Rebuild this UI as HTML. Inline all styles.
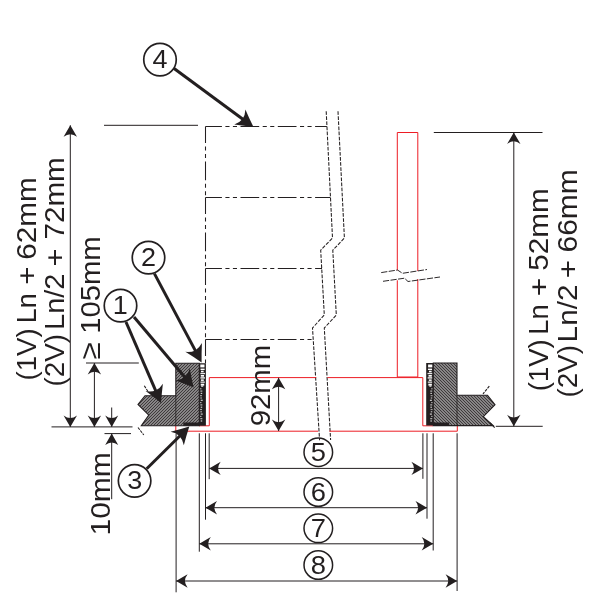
<!DOCTYPE html>
<html><head><meta charset="utf-8"><title>drawing</title>
<style>
html,body{margin:0;padding:0;background:#fff;}
svg{display:block;will-change:transform;}
text{font-family:"Liberation Sans",sans-serif;fill:#231f20;}
</style></head><body>
<svg width="600" height="600" viewBox="0 0 600 600">
<defs>
<pattern id="hl" width="3" height="3" patternUnits="userSpaceOnUse"><rect width="3" height="3" fill="#d0d0d0"/><g stroke="#231f20" stroke-width="0.85"><line x1="-2" y1="-10.00" x2="5" y2="-17.00"/><line x1="-2" y1="-8.50" x2="5" y2="-15.50"/><line x1="-2" y1="-7.00" x2="5" y2="-14.00"/><line x1="-2" y1="-5.50" x2="5" y2="-12.50"/><line x1="-2" y1="-4.00" x2="5" y2="-11.00"/><line x1="-2" y1="-2.50" x2="5" y2="-9.50"/><line x1="-2" y1="-1.00" x2="5" y2="-8.00"/><line x1="-2" y1="0.50" x2="5" y2="-6.50"/><line x1="-2" y1="2.00" x2="5" y2="-5.00"/><line x1="-2" y1="3.50" x2="5" y2="-3.50"/><line x1="-2" y1="5.00" x2="5" y2="-2.00"/><line x1="-2" y1="6.50" x2="5" y2="-0.50"/><line x1="-2" y1="8.00" x2="5" y2="1.00"/><line x1="-2" y1="9.50" x2="5" y2="2.50"/><line x1="-2" y1="11.00" x2="5" y2="4.00"/><line x1="-2" y1="12.50" x2="5" y2="5.50"/><line x1="-2" y1="14.00" x2="5" y2="7.00"/></g></pattern><pattern id="hr" width="3" height="3" patternUnits="userSpaceOnUse"><rect width="3" height="3" fill="#d0d0d0"/><g stroke="#231f20" stroke-width="0.85"><line x1="-2" y1="-14.00" x2="5" y2="-7.00"/><line x1="-2" y1="-12.50" x2="5" y2="-5.50"/><line x1="-2" y1="-11.00" x2="5" y2="-4.00"/><line x1="-2" y1="-9.50" x2="5" y2="-2.50"/><line x1="-2" y1="-8.00" x2="5" y2="-1.00"/><line x1="-2" y1="-6.50" x2="5" y2="0.50"/><line x1="-2" y1="-5.00" x2="5" y2="2.00"/><line x1="-2" y1="-3.50" x2="5" y2="3.50"/><line x1="-2" y1="-2.00" x2="5" y2="5.00"/><line x1="-2" y1="-0.50" x2="5" y2="6.50"/><line x1="-2" y1="1.00" x2="5" y2="8.00"/><line x1="-2" y1="2.50" x2="5" y2="9.50"/><line x1="-2" y1="4.00" x2="5" y2="11.00"/><line x1="-2" y1="5.50" x2="5" y2="12.50"/><line x1="-2" y1="7.00" x2="5" y2="14.00"/><line x1="-2" y1="8.50" x2="5" y2="15.50"/><line x1="-2" y1="10.00" x2="5" y2="17.00"/></g></pattern>
</defs>
<rect width="600" height="600" fill="#fff"/>

<g fill="none" stroke="#231f20" stroke-width="1.05">
<path d="M205.5 126.5 H326.9" stroke-dasharray="18.7 3.5 4.1 3.4 4.1 3.5" stroke-dashoffset="2.3"/>
<path d="M205.5 197.5 H330.4" stroke-dasharray="18.7 3.5 4.1 3.4 4.1 3.5" stroke-dashoffset="2.3"/>
<path d="M205.5 268.5 H322.0" stroke-dasharray="18.7 3.5 4.1 3.4 4.1 3.5" stroke-dashoffset="2.3"/>
<path d="M205.5 339.5 H313.6" stroke-dasharray="18.7 3.5 4.1 3.4 4.1 3.5" stroke-dashoffset="2.3"/>
<path d="M205.5 126.5 V197.5" stroke-dasharray="18.7 3.5 4.1 3.4 4.1 3.5" stroke-dashoffset="2.3"/>
<path d="M205.5 197.5 V268.5" stroke-dasharray="18.7 3.5 4.1 3.4 4.1 3.5" stroke-dashoffset="2.3"/>
<path d="M205.5 268.5 V339.5" stroke-dasharray="18.7 3.5 4.1 3.4 4.1 3.5" stroke-dashoffset="2.3"/>
<path d="M205.5 339.5 V363.3" stroke-dasharray="18.7 3.5 4.1 3.4 4.1 3.5" stroke-dashoffset="2.3"/>
<path d="M326.2 111.2 L332.5 238 L320.7 250.2 L324.3 315 L312.5 328 L319.6 440.3" stroke-dasharray="3.7 1.4"/>
<path d="M338 111.2 L344.4 238 L332.8 250.2 L336.3 315 L324.3 328 L330.6 440" stroke-dasharray="3.7 1.4"/>
</g>
<g fill="none" stroke="#ed1c24" stroke-width="1">
<path d="M397.3 270.3 V132.5 H417.8 V271"/>
<path d="M397.3 280.3 V377 H417.8 V279"/>
<path d="M199 425.8 H209.3 V377.6 H316.2 M327.4 377.6 H422.8 V425.8 H433"/>
<path d="M175.8 425.6 V431.2 H318.2 M329.4 431.2 H457.3 V425.6"/>
</g>
<g fill="none" stroke="#231f20" stroke-width="0.95" stroke-dasharray="6.2 1.4">
<path d="M381.2 272.6 L397.5 270 L402.5 273.3 L427 269.5"/>
<path d="M383 281.3 L404.5 278.2 L408 281.5 L440 277"/>
</g>
<path d="M175.8 363.3 H199.3 V425.7 H141.3 L148.8 415 L138 404.5 L145 395.7 H175.8 Z" fill="url(#hl)" stroke="#231f20" stroke-width="1.1"/>
<line x1="175.80" y1="395.70" x2="175.80" y2="425.70" stroke="#231f20" stroke-width="0.8" />
<path d="M199.2 363.3 H205.9 V425.8 H183.3 V422.5 H199.2 Z" fill="#231f20"/>
<rect x="200.30" y="364.50" width="4.20" height="2.90" fill="#fff" opacity="1"/><rect x="200.54" y="368.60" width="4.10" height="1.40" fill="#fff" opacity="1"/><rect x="200.96" y="370.70" width="2.70" height="1.60" fill="#fff" opacity="1"/><rect x="200.36" y="372.90" width="4.70" height="1.30" fill="#fff" opacity="0.9"/><rect x="200.78" y="375.00" width="3.30" height="1.70" fill="#fff" opacity="1"/><rect x="200.42" y="377.20" width="4.50" height="1.40" fill="#fff" opacity="0.95"/><rect x="200.90" y="379.40" width="2.90" height="1.50" fill="#fff" opacity="1"/><rect x="200.48" y="381.50" width="4.30" height="1.30" fill="#fff" opacity="0.9"/><rect x="200.72" y="383.70" width="3.50" height="1.90" fill="#fff" opacity="1"/><rect x="201.14" y="385.60" width="2.10" height="1.10" fill="#fff" opacity="1"/><rect x="200.00" y="388.20" width="1.50" height="1.20" fill="#fff" opacity="0.6"/><rect x="200.35" y="390.50" width="2.00" height="1.20" fill="#fff" opacity="0.7"/><rect x="200.70" y="392.80" width="1.50" height="1.20" fill="#fff" opacity="0.8"/><rect x="200.00" y="395.10" width="2.00" height="1.20" fill="#fff" opacity="0.6"/><rect x="200.35" y="397.40" width="1.50" height="1.20" fill="#fff" opacity="0.7"/><rect x="200.70" y="399.70" width="2.00" height="1.20" fill="#fff" opacity="0.8"/><rect x="200.00" y="402.00" width="1.50" height="1.20" fill="#fff" opacity="0.6"/><rect x="200.35" y="404.30" width="2.00" height="1.20" fill="#fff" opacity="0.7"/><rect x="200.70" y="406.60" width="1.50" height="1.20" fill="#fff" opacity="0.8"/><rect x="200.00" y="408.90" width="2.00" height="1.20" fill="#fff" opacity="0.6"/><rect x="200.35" y="411.20" width="1.50" height="1.20" fill="#fff" opacity="0.7"/><rect x="200.70" y="413.50" width="2.00" height="1.20" fill="#fff" opacity="0.8"/><rect x="200.00" y="415.80" width="1.50" height="1.20" fill="#fff" opacity="0.6"/><rect x="200.35" y="418.10" width="2.00" height="1.20" fill="#fff" opacity="0.7"/><rect x="200.70" y="420.40" width="1.50" height="1.20" fill="#fff" opacity="0.8"/>
<path d="M433.3 363 H457 V395.3 H487.5 L495 404.7 L483.3 416.7 L493.3 425.6 H433.3 Z" fill="url(#hr)" stroke="#231f20" stroke-width="1.1"/>
<line x1="457.00" y1="395.30" x2="457.00" y2="425.60" stroke="#231f20" stroke-width="0.8" />
<path d="M433.4 363 H426.2 V425.6 H449.2 V422.4 H433.4 Z" fill="#231f20"/>
<rect x="428.10" y="364.50" width="4.20" height="2.90" fill="#fff" opacity="1"/><rect x="427.96" y="368.60" width="4.10" height="1.40" fill="#fff" opacity="1"/><rect x="428.94" y="370.70" width="2.70" height="1.60" fill="#fff" opacity="1"/><rect x="427.54" y="372.90" width="4.70" height="1.30" fill="#fff" opacity="0.9"/><rect x="428.52" y="375.00" width="3.30" height="1.70" fill="#fff" opacity="1"/><rect x="427.68" y="377.20" width="4.50" height="1.40" fill="#fff" opacity="0.95"/><rect x="428.80" y="379.40" width="2.90" height="1.50" fill="#fff" opacity="1"/><rect x="427.82" y="381.50" width="4.30" height="1.30" fill="#fff" opacity="0.9"/><rect x="428.38" y="383.70" width="3.50" height="1.90" fill="#fff" opacity="1"/><rect x="429.36" y="385.60" width="2.10" height="1.10" fill="#fff" opacity="1"/><rect x="431.10" y="388.20" width="1.50" height="1.20" fill="#fff" opacity="0.6"/><rect x="430.25" y="390.50" width="2.00" height="1.20" fill="#fff" opacity="0.7"/><rect x="430.40" y="392.80" width="1.50" height="1.20" fill="#fff" opacity="0.8"/><rect x="430.60" y="395.10" width="2.00" height="1.20" fill="#fff" opacity="0.6"/><rect x="430.75" y="397.40" width="1.50" height="1.20" fill="#fff" opacity="0.7"/><rect x="429.90" y="399.70" width="2.00" height="1.20" fill="#fff" opacity="0.8"/><rect x="431.10" y="402.00" width="1.50" height="1.20" fill="#fff" opacity="0.6"/><rect x="430.25" y="404.30" width="2.00" height="1.20" fill="#fff" opacity="0.7"/><rect x="430.40" y="406.60" width="1.50" height="1.20" fill="#fff" opacity="0.8"/><rect x="430.60" y="408.90" width="2.00" height="1.20" fill="#fff" opacity="0.6"/><rect x="430.75" y="411.20" width="1.50" height="1.20" fill="#fff" opacity="0.7"/><rect x="429.90" y="413.50" width="2.00" height="1.20" fill="#fff" opacity="0.8"/><rect x="431.10" y="415.80" width="1.50" height="1.20" fill="#fff" opacity="0.6"/><rect x="430.25" y="418.10" width="2.00" height="1.20" fill="#fff" opacity="0.7"/><rect x="430.40" y="420.40" width="1.50" height="1.20" fill="#fff" opacity="0.8"/>
<g stroke="#231f20" stroke-width="1.1" stroke-dasharray="2.8 1">
<path d="M144.3 385.8 L147.8 391.2"/>
<path d="M138 427.5 L143.8 435"/>
<path d="M489.3 386.2 L483 393.8"/>
<path d="M490 423 L495.2 428.2"/>
</g>
<g>
<line x1="104.00" y1="125.30" x2="198.00" y2="125.30" stroke="#231f20" stroke-width="1.0" />
<line x1="433.80" y1="132.50" x2="542.50" y2="132.50" stroke="#231f20" stroke-width="1.0" />
<line x1="51.50" y1="426.90" x2="132.50" y2="426.90" stroke="#231f20" stroke-width="1.0" />
<line x1="104.50" y1="433.60" x2="131.00" y2="433.60" stroke="#231f20" stroke-width="1.0" />
<line x1="86.00" y1="363.00" x2="138.80" y2="363.00" stroke="#231f20" stroke-width="1.0" />
<line x1="495.80" y1="426.30" x2="542.70" y2="426.30" stroke="#231f20" stroke-width="1.0" />
<line x1="176.10" y1="433.30" x2="176.10" y2="592.30" stroke="#231f20" stroke-width="1.0" />
<line x1="199.30" y1="433.30" x2="199.30" y2="551.70" stroke="#231f20" stroke-width="1.0" />
<line x1="205.50" y1="433.30" x2="205.50" y2="519.70" stroke="#231f20" stroke-width="1.0" />
<line x1="209.20" y1="433.30" x2="209.20" y2="479.20" stroke="#231f20" stroke-width="1.0" />
<line x1="422.90" y1="433.30" x2="422.90" y2="478.80" stroke="#231f20" stroke-width="1.0" />
<line x1="427.00" y1="433.30" x2="427.00" y2="518.70" stroke="#231f20" stroke-width="1.0" />
<line x1="433.20" y1="433.30" x2="433.20" y2="550.50" stroke="#231f20" stroke-width="1.0" />
<line x1="457.10" y1="433.30" x2="457.10" y2="591.00" stroke="#231f20" stroke-width="1.0" />
</g>
<line x1="70.30" y1="125.30" x2="70.30" y2="426.90" stroke="#231f20" stroke-width="1.0" /><path fill="#231f20" d="M70.30 125.30 Q73.65 131.05 77.00 136.80 Q73.65 134.21 70.30 134.16 Q66.95 134.21 63.60 136.80 Q66.95 131.05 70.30 125.30 Z"/><path fill="#231f20" d="M70.30 426.90 Q66.95 421.15 63.60 415.40 Q66.95 417.99 70.30 418.04 Q73.65 417.99 77.00 415.40 Q73.65 421.15 70.30 426.90 Z"/>
<line x1="94.40" y1="363.00" x2="94.40" y2="426.90" stroke="#231f20" stroke-width="1.0" /><path fill="#231f20" d="M94.40 363.00 Q97.75 368.75 101.10 374.50 Q97.75 371.91 94.40 371.86 Q91.05 371.91 87.70 374.50 Q91.05 368.75 94.40 363.00 Z"/><path fill="#231f20" d="M94.40 426.90 Q91.05 421.15 87.70 415.40 Q91.05 417.99 94.40 418.04 Q97.75 417.99 101.10 415.40 Q97.75 421.15 94.40 426.90 Z"/>
<line x1="111.70" y1="407.50" x2="111.70" y2="426.90" stroke="#231f20" stroke-width="1.0" />
<path fill="#231f20" d="M111.70 426.90 Q108.45 421.15 105.20 415.40 Q108.45 417.99 111.70 418.04 Q114.95 417.99 118.20 415.40 Q114.95 421.15 111.70 426.90 Z"/>
<line x1="111.70" y1="433.60" x2="111.70" y2="499.20" stroke="#231f20" stroke-width="1.0" />
<path fill="#231f20" d="M111.70 433.60 Q114.95 439.35 118.20 445.10 Q114.95 442.51 111.70 442.46 Q108.45 442.51 105.20 445.10 Q108.45 439.35 111.70 433.60 Z"/>
<line x1="513.80" y1="132.50" x2="513.80" y2="426.30" stroke="#231f20" stroke-width="1.0" /><path fill="#231f20" d="M513.80 132.50 Q517.15 138.25 520.50 144.00 Q517.15 141.41 513.80 141.35 Q510.45 141.41 507.10 144.00 Q510.45 138.25 513.80 132.50 Z"/><path fill="#231f20" d="M513.80 426.30 Q510.45 420.55 507.10 414.80 Q510.45 417.39 513.80 417.44 Q517.15 417.39 520.50 414.80 Q517.15 420.55 513.80 426.30 Z"/>
<line x1="278.60" y1="377.80" x2="278.60" y2="431.00" stroke="#231f20" stroke-width="1.0" /><path fill="#231f20" d="M278.60 377.80 Q281.95 383.55 285.30 389.30 Q281.95 386.71 278.60 386.66 Q275.25 386.71 271.90 389.30 Q275.25 383.55 278.60 377.80 Z"/><path fill="#231f20" d="M278.60 431.00 Q275.25 425.25 271.90 419.50 Q275.25 422.09 278.60 422.14 Q281.95 422.09 285.30 419.50 Q281.95 425.25 278.60 431.00 Z"/>
<line x1="209.20" y1="468.40" x2="422.90" y2="468.40" stroke="#231f20" stroke-width="1.0" /><path fill="#231f20" d="M209.20 468.40 Q214.95 465.05 220.70 461.70 Q218.11 465.05 218.05 468.40 Q218.11 471.75 220.70 475.10 Q214.95 471.75 209.20 468.40 Z"/><path fill="#231f20" d="M422.90 468.40 Q417.15 471.75 411.40 475.10 Q413.99 471.75 414.04 468.40 Q413.99 465.05 411.40 461.70 Q417.15 465.05 422.90 468.40 Z"/>
<line x1="205.50" y1="507.70" x2="427.00" y2="507.70" stroke="#231f20" stroke-width="1.0" /><path fill="#231f20" d="M205.50 507.70 Q211.25 504.35 217.00 501.00 Q214.41 504.35 214.35 507.70 Q214.41 511.05 217.00 514.40 Q211.25 511.05 205.50 507.70 Z"/><path fill="#231f20" d="M427.00 507.70 Q421.25 511.05 415.50 514.40 Q418.09 511.05 418.14 507.70 Q418.09 504.35 415.50 501.00 Q421.25 504.35 427.00 507.70 Z"/>
<line x1="199.30" y1="543.80" x2="433.20" y2="543.80" stroke="#231f20" stroke-width="1.0" /><path fill="#231f20" d="M199.30 543.80 Q205.05 540.45 210.80 537.10 Q208.21 540.45 208.16 543.80 Q208.21 547.15 210.80 550.50 Q205.05 547.15 199.30 543.80 Z"/><path fill="#231f20" d="M433.20 543.80 Q427.45 547.15 421.70 550.50 Q424.29 547.15 424.34 543.80 Q424.29 540.45 421.70 537.10 Q427.45 540.45 433.20 543.80 Z"/>
<line x1="176.10" y1="581.00" x2="457.10" y2="581.00" stroke="#231f20" stroke-width="1.0" /><path fill="#231f20" d="M176.10 581.00 Q181.85 577.65 187.60 574.30 Q185.01 577.65 184.95 581.00 Q185.01 584.35 187.60 587.70 Q181.85 584.35 176.10 581.00 Z"/><path fill="#231f20" d="M457.10 581.00 Q451.35 584.35 445.60 587.70 Q448.19 584.35 448.25 581.00 Q448.19 577.65 445.60 574.30 Q451.35 577.65 457.10 581.00 Z"/>
<line x1="173.75" y1="68.30" x2="245.29" y2="121.05" stroke="#231f20" stroke-width="3.0" /><path fill="#231f20" d="M253.50 127.10 Q244.04 125.61 234.24 124.58 Q239.63 122.71 242.55 119.03 Q245.21 115.15 245.40 109.45 Q249.28 118.50 253.50 127.10 Z"/>
<line x1="154.40" y1="273.60" x2="196.81" y2="353.39" stroke="#231f20" stroke-width="3.0" /><path fill="#231f20" d="M201.60 362.40 Q193.71 356.97 185.32 351.80 Q190.99 352.45 195.22 350.39 Q199.29 348.03 201.92 342.98 Q201.51 352.82 201.60 362.40 Z"/>
<line x1="134.00" y1="317.00" x2="187.01" y2="379.71" stroke="#231f20" stroke-width="3.0" /><path fill="#231f20" d="M193.60 387.50 Q184.74 383.86 175.45 380.59 Q181.12 380.02 184.82 377.11 Q188.30 373.95 189.80 368.45 Q191.49 378.16 193.60 387.50 Z"/>
<line x1="126.00" y1="322.00" x2="156.95" y2="393.64" stroke="#231f20" stroke-width="3.0" /><path fill="#231f20" d="M161.00 403.00 Q153.57 396.95 145.63 391.12 Q151.22 392.22 155.61 390.52 Q159.85 388.50 162.89 383.67 Q161.68 393.44 161.00 403.00 Z"/>
<line x1="146.70" y1="468.75" x2="182.05" y2="433.77" stroke="#231f20" stroke-width="3.0" /><path fill="#231f20" d="M189.30 426.60 Q186.37 435.72 183.83 445.24 Q182.82 439.63 179.63 436.17 Q176.21 432.94 170.60 431.87 Q180.15 429.44 189.30 426.60 Z"/>
<circle cx="160.00" cy="59.70" r="16.25" fill="none" stroke="#231f20" stroke-width="1.7"/><text transform="translate(160.08 67.85) scale(1.08 1)" font-size="25" text-anchor="middle">4</text>
<circle cx="148.50" cy="257.70" r="16.25" fill="none" stroke="#231f20" stroke-width="1.7"/><text transform="translate(148.52 265.85) scale(1.08 1)" font-size="25" text-anchor="middle">2</text>
<circle cx="120.50" cy="305.70" r="16.25" fill="none" stroke="#231f20" stroke-width="1.7"/><text transform="translate(120.18 313.85) scale(1.08 1)" font-size="25" text-anchor="middle">1</text>
<circle cx="134.60" cy="480.80" r="16.25" fill="none" stroke="#231f20" stroke-width="1.7"/><text transform="translate(134.68 488.95) scale(1.08 1)" font-size="25" text-anchor="middle">3</text>
<circle cx="318.30" cy="452.20" r="14.30" fill="none" stroke="#231f20" stroke-width="1.5"/><text transform="translate(318.32 460.80) scale(1.04 1)" font-size="26.3" text-anchor="middle">5</text>
<circle cx="318.30" cy="492.00" r="14.30" fill="none" stroke="#231f20" stroke-width="1.5"/><text transform="translate(318.25 500.60) scale(1.04 1)" font-size="26.3" text-anchor="middle">6</text>
<circle cx="318.30" cy="528.30" r="14.30" fill="none" stroke="#231f20" stroke-width="1.5"/><text transform="translate(318.32 536.90) scale(1.04 1)" font-size="26.3" text-anchor="middle">7</text>
<circle cx="318.30" cy="565.00" r="14.30" fill="none" stroke="#231f20" stroke-width="1.5"/><text transform="translate(318.25 573.61) scale(1.04 1)" font-size="26.3" text-anchor="middle">8</text>
<text transform="translate(36.40 380.56) rotate(-90)" font-size="28.5" textLength="52.34" lengthAdjust="spacingAndGlyphs">(1V)</text>
<text transform="translate(36.40 323.16) rotate(-90)" font-size="28.5" textLength="29.97" lengthAdjust="spacingAndGlyphs">Ln</text>
<text transform="translate(36.40 284.86) rotate(-90)" font-size="28.5" textLength="18.18" lengthAdjust="spacingAndGlyphs">+</text>
<text transform="translate(36.40 259.79) rotate(-90)" font-size="28.5" textLength="82.62" lengthAdjust="spacingAndGlyphs">62mm</text>
<text transform="translate(63.90 386.47) rotate(-90)" font-size="28.5" textLength="52.45" lengthAdjust="spacingAndGlyphs">(2V)</text>
<text transform="translate(63.90 329.92) rotate(-90)" font-size="28.5" textLength="56.41" lengthAdjust="spacingAndGlyphs">Ln/2</text>
<text transform="translate(63.90 266.44) rotate(-90)" font-size="28.5" textLength="17.94" lengthAdjust="spacingAndGlyphs">+</text>
<text transform="translate(63.90 239.48) rotate(-90)" font-size="28.5" textLength="82.20" lengthAdjust="spacingAndGlyphs">72mm</text>
<text transform="translate(99.60 359.44) rotate(-90)" font-size="28.5" textLength="17.20" lengthAdjust="spacingAndGlyphs">≥</text>
<text transform="translate(99.60 333.79) rotate(-90)" font-size="28.5" textLength="97.48" lengthAdjust="spacingAndGlyphs">105mm</text>
<text transform="translate(109.70 535.55) rotate(-90)" font-size="28.5" textLength="83.40" lengthAdjust="spacingAndGlyphs">10mm</text>
<text transform="translate(270.20 426.32) rotate(-90)" font-size="28.5" textLength="81.63" lengthAdjust="spacingAndGlyphs">92mm</text>
<text transform="translate(548.40 391.25) rotate(-90)" font-size="28.5" textLength="51.91" lengthAdjust="spacingAndGlyphs">(1V)</text>
<text transform="translate(548.40 334.69) rotate(-90)" font-size="28.5" textLength="30.43" lengthAdjust="spacingAndGlyphs">Ln</text>
<text transform="translate(548.40 296.19) rotate(-90)" font-size="28.5" textLength="18.54" lengthAdjust="spacingAndGlyphs">+</text>
<text transform="translate(548.40 270.79) rotate(-90)" font-size="28.5" textLength="82.52" lengthAdjust="spacingAndGlyphs">52mm</text>
<text transform="translate(576.80 397.57) rotate(-90)" font-size="28.5" textLength="52.45" lengthAdjust="spacingAndGlyphs">(2V)</text>
<text transform="translate(576.80 342.38) rotate(-90)" font-size="28.5" textLength="57.91" lengthAdjust="spacingAndGlyphs">Ln/2</text>
<text transform="translate(576.80 278.16) rotate(-90)" font-size="28.5" textLength="18.18" lengthAdjust="spacingAndGlyphs">+</text>
<text transform="translate(576.80 252.50) rotate(-90)" font-size="28.5" textLength="83.35" lengthAdjust="spacingAndGlyphs">66mm</text>
</svg></body></html>
